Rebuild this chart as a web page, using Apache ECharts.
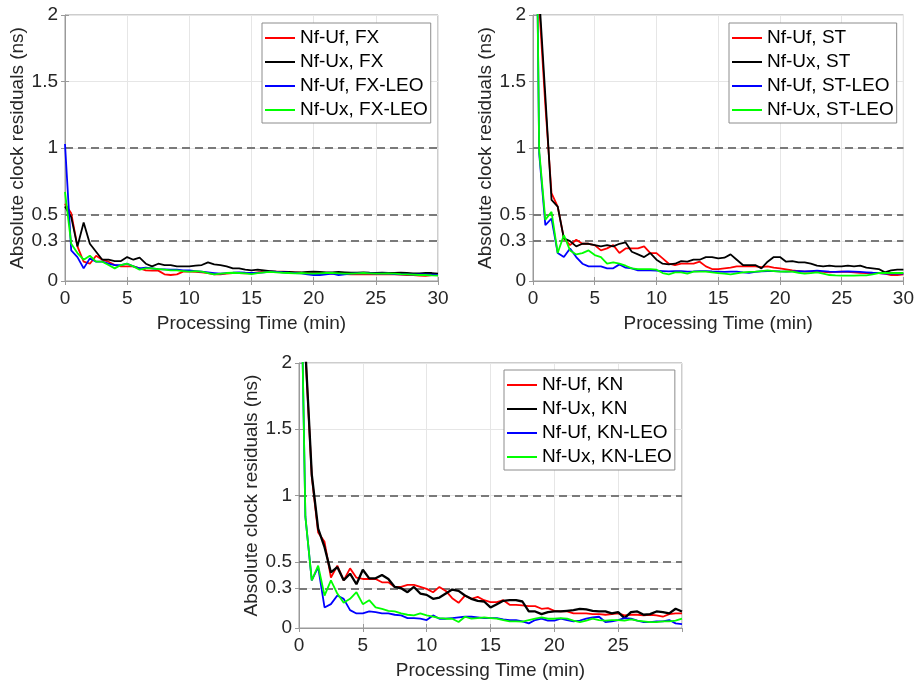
<!DOCTYPE html>
<html><head><meta charset="utf-8">
<script src="https://cdn.jsdelivr.net/npm/echarts@6/dist/echarts.min.js"></script>
<style>html,body{margin:0;padding:0;background:#fff}#c{width:917px;height:684px}</style>
</head><body><div id="c"></div>
<script>
// Processing time (min)
const TIME = [0,0.5,1,1.5,2,2.5,3,3.5,4,4.5,5,5.5,6,6.5,7,7.5,8,8.5,9,9.5,10,10.5,11,11.5,12,12.5,13,13.5,14,14.5,15,15.5,16,16.5,17,17.5,18,18.5,19,19.5,20,20.5,21,21.5,22,22.5,23,23.5,24,24.5,25,25.5,26,26.5,27,27.5,28,28.5,29,29.5,30];
const Y_TICKS = [0,0.3,0.5,1,1.5,2];
const REF_LEVELS = [0.3,0.5,1];

// Panel FX
const FX_NAMES = ['Nf-Uf, FX','Nf-Ux, FX','Nf-Uf, FX-LEO','Nf-Ux, FX-LEO'];
const FX_UF = [0.58,0.51,0.26,0.145,0.13,0.19,0.16,0.145,0.12,0.11,0.11,0.11,0.095,0.08,0.078,0.078,0.05,0.045,0.05,0.07,0.07,0.068,0.065,0.06,0.05,0.05,0.055,0.06,0.06,0.058,0.06,0.065,0.07,0.072,0.07,0.07,0.068,0.065,0.062,0.06,0.058,0.06,0.058,0.055,0.055,0.052,0.05,0.05,0.052,0.05,0.05,0.052,0.05,0.05,0.048,0.045,0.045,0.04,0.038,0.045,0.045];
const FX_UX = [0.56,0.48,0.26,0.44,0.28,0.22,0.16,0.16,0.15,0.15,0.18,0.16,0.175,0.13,0.11,0.13,0.12,0.12,0.11,0.11,0.11,0.115,0.12,0.14,0.125,0.12,0.11,0.095,0.095,0.085,0.08,0.085,0.08,0.075,0.07,0.068,0.068,0.065,0.065,0.068,0.07,0.068,0.065,0.065,0.068,0.065,0.062,0.062,0.065,0.062,0.06,0.062,0.06,0.06,0.062,0.06,0.058,0.058,0.06,0.06,0.055];
const FX_UF_LEO = [1.03,0.23,0.18,0.095,0.17,0.145,0.145,0.13,0.12,0.12,0.13,0.11,0.095,0.1,0.095,0.09,0.088,0.085,0.085,0.08,0.08,0.075,0.07,0.065,0.06,0.055,0.06,0.062,0.065,0.062,0.06,0.062,0.065,0.07,0.068,0.065,0.062,0.06,0.058,0.05,0.045,0.045,0.05,0.055,0.045,0.05,0.055,0.058,0.06,0.058,0.055,0.055,0.055,0.052,0.05,0.05,0.048,0.05,0.05,0.048,0.045];
const FX_UX_LEO = [0.67,0.28,0.21,0.16,0.19,0.145,0.145,0.12,0.095,0.12,0.13,0.11,0.085,0.095,0.095,0.09,0.085,0.08,0.08,0.075,0.07,0.075,0.07,0.06,0.05,0.055,0.06,0.062,0.06,0.058,0.052,0.06,0.065,0.068,0.065,0.062,0.06,0.058,0.06,0.058,0.055,0.058,0.06,0.06,0.058,0.055,0.055,0.058,0.06,0.058,0.055,0.055,0.058,0.055,0.052,0.05,0.048,0.045,0.045,0.042,0.04];

// Panel ST
const ST_NAMES = ['Nf-Uf, ST','Nf-Ux, ST','Nf-Uf, ST-LEO','Nf-Ux, ST-LEO'];
const ST_UF = [5.0,2.07,1.32,0.66,0.56,0.32,0.27,0.31,0.28,0.28,0.27,0.23,0.245,0.27,0.21,0.245,0.245,0.245,0.26,0.21,0.21,0.17,0.13,0.12,0.13,0.13,0.13,0.145,0.11,0.09,0.09,0.095,0.1,0.11,0.11,0.11,0.11,0.105,0.11,0.1,0.095,0.088,0.08,0.075,0.07,0.072,0.07,0.068,0.065,0.068,0.07,0.068,0.065,0.062,0.06,0.06,0.06,0.055,0.045,0.045,0.05];
const ST_UX = [5.5,2.15,1.39,0.61,0.56,0.32,0.3,0.26,0.28,0.28,0.27,0.26,0.27,0.26,0.28,0.29,0.22,0.2,0.18,0.21,0.16,0.13,0.125,0.13,0.15,0.145,0.16,0.16,0.18,0.18,0.17,0.175,0.2,0.16,0.12,0.12,0.12,0.095,0.145,0.18,0.18,0.145,0.15,0.14,0.14,0.13,0.115,0.11,0.115,0.11,0.11,0.115,0.11,0.115,0.1,0.095,0.09,0.065,0.08,0.085,0.085];
const ST_UF_LEO = [5.2,0.96,0.42,0.47,0.21,0.18,0.245,0.18,0.13,0.11,0.11,0.11,0.095,0.095,0.125,0.1,0.095,0.08,0.08,0.08,0.078,0.075,0.072,0.075,0.075,0.07,0.072,0.075,0.075,0.072,0.07,0.068,0.07,0.07,0.065,0.062,0.068,0.072,0.075,0.075,0.072,0.07,0.072,0.075,0.072,0.075,0.078,0.075,0.07,0.068,0.07,0.072,0.07,0.068,0.065,0.062,0.06,0.055,0.055,0.055,0.055];
const ST_UX_LEO = [5.2,0.98,0.46,0.52,0.21,0.345,0.23,0.2,0.21,0.23,0.195,0.18,0.13,0.14,0.13,0.115,0.095,0.09,0.09,0.09,0.085,0.06,0.05,0.065,0.065,0.055,0.07,0.07,0.07,0.065,0.06,0.055,0.05,0.058,0.065,0.068,0.07,0.075,0.08,0.075,0.07,0.072,0.07,0.062,0.055,0.06,0.065,0.055,0.045,0.042,0.04,0.04,0.04,0.042,0.042,0.05,0.06,0.06,0.06,0.06,0.06];

// Panel KN
const KN_NAMES = ['Nf-Uf, KN','Nf-Ux, KN','Nf-Uf, KN-LEO','Nf-Ux, KN-LEO'];
const KN_UF = [5.0,2.08,1.14,0.72,0.65,0.38,0.47,0.36,0.45,0.38,0.37,0.37,0.37,0.345,0.345,0.31,0.31,0.325,0.325,0.31,0.295,0.27,0.31,0.28,0.225,0.19,0.245,0.22,0.235,0.21,0.195,0.195,0.21,0.175,0.175,0.17,0.165,0.165,0.145,0.15,0.13,0.125,0.125,0.11,0.11,0.11,0.105,0.105,0.1,0.105,0.11,0.095,0.1,0.1,0.095,0.1,0.095,0.085,0.105,0.11,0.11];
const KN_UX = [5.5,2.1,1.16,0.75,0.61,0.42,0.46,0.36,0.41,0.33,0.44,0.375,0.375,0.4,0.37,0.31,0.3,0.27,0.31,0.26,0.25,0.22,0.23,0.26,0.29,0.28,0.245,0.22,0.205,0.2,0.155,0.18,0.205,0.21,0.21,0.2,0.125,0.125,0.105,0.12,0.125,0.125,0.13,0.135,0.145,0.14,0.13,0.125,0.125,0.11,0.12,0.075,0.12,0.125,0.1,0.105,0.125,0.12,0.11,0.145,0.125];
const KN_UF_LEO = [3.6,0.84,0.36,0.46,0.155,0.18,0.245,0.22,0.135,0.11,0.11,0.125,0.12,0.11,0.11,0.1,0.095,0.075,0.075,0.07,0.06,0.095,0.07,0.07,0.075,0.08,0.085,0.085,0.08,0.075,0.075,0.075,0.065,0.06,0.06,0.05,0.035,0.06,0.07,0.055,0.055,0.07,0.06,0.05,0.055,0.07,0.08,0.085,0.045,0.05,0.06,0.075,0.07,0.055,0.045,0.045,0.05,0.05,0.06,0.035,0.03];
const KN_UX_LEO = [3.6,0.84,0.36,0.47,0.245,0.36,0.26,0.19,0.22,0.27,0.18,0.21,0.155,0.145,0.13,0.125,0.11,0.1,0.095,0.11,0.095,0.085,0.075,0.07,0.07,0.045,0.085,0.07,0.075,0.08,0.075,0.07,0.06,0.05,0.05,0.048,0.06,0.07,0.08,0.07,0.07,0.075,0.07,0.055,0.045,0.055,0.07,0.06,0.055,0.06,0.06,0.055,0.065,0.055,0.05,0.045,0.045,0.05,0.05,0.055,0.07];

const COLORS = ['#ff0000','#000000','#0000ff','#00ff00'];
const FONT = 'Liberation Sans, Arial, Helvetica, sans-serif';
const TXT = '#262626';
const AX = '#9a9a9a';

const panels = [
  {names: FX_NAMES, values: [FX_UF, FX_UX, FX_UF_LEO, FX_UX_LEO], grid: {left: 65, top: 15, width: 373, height: 266}, legend: {left: 262, top: 23}, nameGap: 35, showMax: true, widths: [1.8,1.8,1.8,1.8]},
  {names: ST_NAMES, values: [ST_UF, ST_UX, ST_UF_LEO, ST_UX_LEO], grid: {left: 533, top: 15, width: 372, height: 266}, legend: {left: 729, top: 23}, nameGap: 36, showMax: true, widths: [1.8,1.8,1.8,1.8]},
  {names: KN_NAMES, values: [KN_UF, KN_UX, KN_UF_LEO, KN_UX_LEO], grid: {left: 299, top: 363, width: 383, height: 265}, legend: {left: 504, top: 370}, nameGap: 36, showMax: false, widths: [1.8,2.3,1.8,1.8]}
];

const option = {animation: false, backgroundColor: '#fff', grid: [], xAxis: [], yAxis: [], legend: [], series: []};

panels.forEach((p, gi) => {
  option.grid.push(Object.assign({show: true, borderColor: AX, borderWidth: 1, backgroundColor: '#fff'}, p.grid));
  const xb = option.xAxis.length;
  option.xAxis.push({
    type: 'value', gridIndex: gi, min: 0, max: 30, interval: 5,
    axisLine: {show: true, onZero: false, lineStyle: {color: AX}},
    axisTick: {show: true, inside: true, length: 4, lineStyle: {color: AX}},
    axisLabel: {color: TXT, fontSize: 19, fontFamily: FONT, margin: 8, showMaxLabel: p.showMax},
    splitLine: {show: true, lineStyle: {color: '#e6e6e6', width: 1}},
    name: 'Processing Time (min)', nameLocation: 'middle', nameGap: 33,
    nameTextStyle: {color: TXT, fontSize: 19, fontFamily: FONT}
  });
  option.xAxis.push({
    type: 'value', gridIndex: gi, min: 0, max: 30, interval: 5, position: 'top',
    axisLine: {show: false}, axisTick: {show: true, inside: true, length: 4, lineStyle: {color: AX}},
    axisLabel: {show: false}, splitLine: {show: false}
  });
  const yb = option.yAxis.length;
  option.yAxis.push({
    type: 'value', gridIndex: gi, min: 0, max: 2, interval: 0.5,
    axisLine: {show: true, onZero: false, lineStyle: {color: AX}},
    axisTick: {show: true, inside: true, length: 4, customValues: Y_TICKS, lineStyle: {color: AX}},
    axisLabel: {color: TXT, fontSize: 19, fontFamily: FONT, margin: 7, customValues: Y_TICKS, formatter: v => String(v)},
    splitLine: {show: true, lineStyle: {color: '#e6e6e6', width: 1}},
    name: 'Absolute clock residuals (ns)', nameLocation: 'middle', nameGap: p.nameGap,
    nameTextStyle: {color: TXT, fontSize: 19, fontFamily: FONT}
  });
  option.yAxis.push({
    type: 'value', gridIndex: gi, min: 0, max: 2, interval: 0.5, position: 'right',
    axisLine: {show: false},
    axisTick: {show: true, inside: true, length: 4, customValues: Y_TICKS, lineStyle: {color: AX}},
    axisLabel: {show: false}, splitLine: {show: false}
  });
  option.legend.push({
    left: p.legend.left, top: p.legend.top, orient: 'vertical',
    data: p.names.map(n => ({name: n, icon: 'rect'})),
    padding: [5, 3, 3, 3], itemGap: 4, itemWidth: 30, itemHeight: 2,
    backgroundColor: '#fff', borderColor: '#8c8c8c', borderWidth: 1, borderRadius: 0,
    selectedMode: false, z: 20,
    textStyle: {color: '#000', fontSize: 19, fontFamily: FONT, lineHeight: 20}
  });
  // reference dashed levels
  option.series.push({
    type: 'line', xAxisIndex: xb, yAxisIndex: yb, data: [], silent: true, z: 1,
    markLine: {silent: true, symbol: ['none','none'], label: {show: false},
      lineStyle: {color: '#7a7a7a', width: 2, type: [8, 5]},
      data: REF_LEVELS.map(v => ({yAxis: v}))}
  });
  p.names.forEach((nm, si) => {
    option.series.push({
      name: nm, type: 'line', xAxisIndex: xb, yAxisIndex: yb,
      data: TIME.map((t, i) => [t, p.values[si][i]]),
      symbol: 'none', showSymbol: false, clip: true, z: 5 + si,
      lineStyle: {color: COLORS[si], width: p.widths[si]},
      itemStyle: {color: COLORS[si]}
    });
  });
});

const chart = echarts.init(document.getElementById('c'), null, {renderer: 'canvas'});
chart.setOption(option);
</script>
</body></html>
